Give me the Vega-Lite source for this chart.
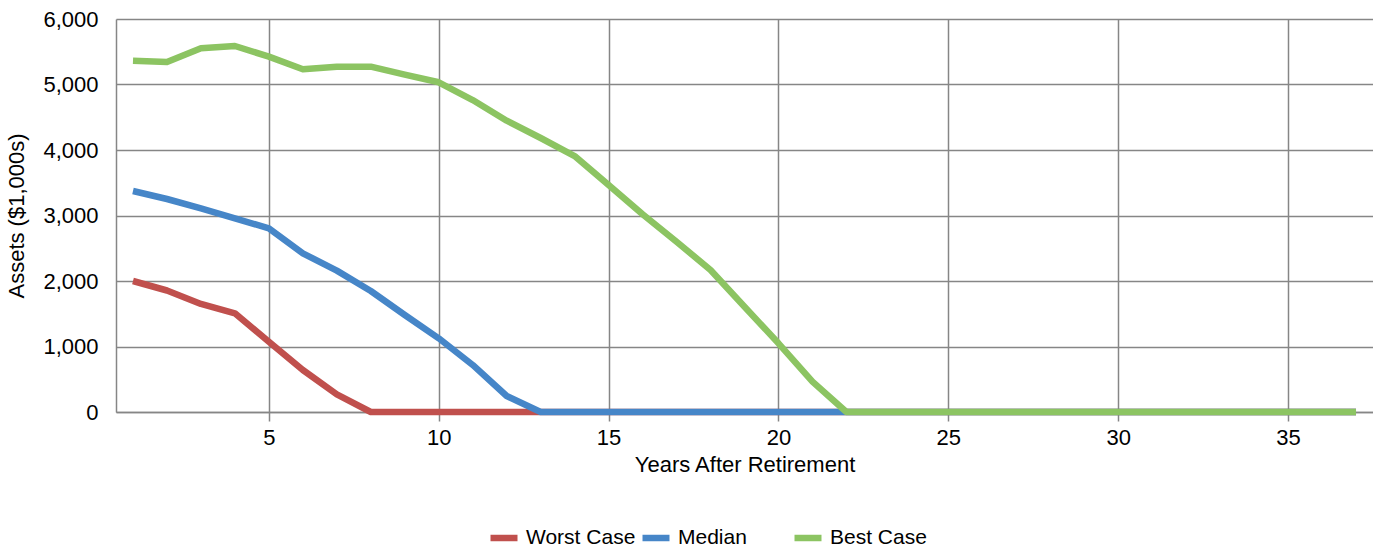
{
  "$schema": "https://vega.github.io/schema/vega-lite/v6.json",
  "autosize": {"type": "none"},
  "padding": {"left": 116, "top": 19, "right": 0, "bottom": 136},
  "width": 1257,
  "height": 393,
  "background": "white",
  "config": {
    "font": "Liberation Sans",
    "view": {"stroke": null},
    "axis": {
      "labelFont": "Liberation Sans",
      "titleFont": "Liberation Sans",
      "labelFontSize": 22,
      "titleFontSize": 22,
      "titleFontWeight": "normal",
      "labelColor": "#000000",
      "titleColor": "#000000",
      "gridColor": "#868686",
      "gridWidth": 1.5,
      "gridOpacity": 1,
      "domainColor": "#868686",
      "domainWidth": 1.5,
      "tickColor": "#868686",
      "tickWidth": 1.5
    },
    "legend": {
      "labelFont": "Liberation Sans",
      "labelFontSize": 21,
      "labelColor": "#000000"
    }
  },
  "data": {
    "values": [
      {"year": 1, "Worst Case": 2000, "Median": 3374, "Best Case": 5364},
      {"year": 2, "Worst Case": 1855, "Median": 3252, "Best Case": 5344},
      {"year": 3, "Worst Case": 1649, "Median": 3110, "Best Case": 5552},
      {"year": 4, "Worst Case": 1506, "Median": 2957, "Best Case": 5588},
      {"year": 5, "Worst Case": 1073, "Median": 2804, "Best Case": 5425},
      {"year": 6, "Worst Case": 641, "Median": 2423, "Best Case": 5232},
      {"year": 7, "Worst Case": 270, "Median": 2158, "Best Case": 5272},
      {"year": 8, "Worst Case": 0, "Median": 1847, "Best Case": 5272},
      {"year": 9, "Worst Case": 0, "Median": 1481, "Best Case": 5150},
      {"year": 10, "Worst Case": 0, "Median": 1125, "Best Case": 5034},
      {"year": 11, "Worst Case": 0, "Median": 718, "Best Case": 4763},
      {"year": 12, "Worst Case": 0, "Median": 244, "Best Case": 4448},
      {"year": 13, "Worst Case": 0, "Median": 0, "Best Case": 4183},
      {"year": 14, "Worst Case": 0, "Median": 0, "Best Case": 3908},
      {"year": 15, "Worst Case": 0, "Median": 0, "Best Case": 3466},
      {"year": 16, "Worst Case": 0, "Median": 0, "Best Case": 3018},
      {"year": 17, "Worst Case": 0, "Median": 0, "Best Case": 2600},
      {"year": 18, "Worst Case": 0, "Median": 0, "Best Case": 2168},
      {"year": 19, "Worst Case": 0, "Median": 0, "Best Case": 1608},
      {"year": 20, "Worst Case": 0, "Median": 0, "Best Case": 1049},
      {"year": 21, "Worst Case": 0, "Median": 0, "Best Case": 463},
      {"year": 22, "Worst Case": 0, "Median": 0, "Best Case": 0},
      {"year": 23, "Worst Case": 0, "Median": 0, "Best Case": 0},
      {"year": 24, "Worst Case": 0, "Median": 0, "Best Case": 0},
      {"year": 25, "Worst Case": 0, "Median": 0, "Best Case": 0},
      {"year": 26, "Worst Case": 0, "Median": 0, "Best Case": 0},
      {"year": 27, "Worst Case": 0, "Median": 0, "Best Case": 0},
      {"year": 28, "Worst Case": 0, "Median": 0, "Best Case": 0},
      {"year": 29, "Worst Case": 0, "Median": 0, "Best Case": 0},
      {"year": 30, "Worst Case": 0, "Median": 0, "Best Case": 0},
      {"year": 31, "Worst Case": 0, "Median": 0, "Best Case": 0},
      {"year": 32, "Worst Case": 0, "Median": 0, "Best Case": 0},
      {"year": 33, "Worst Case": 0, "Median": 0, "Best Case": 0},
      {"year": 34, "Worst Case": 0, "Median": 0, "Best Case": 0},
      {"year": 35, "Worst Case": 0, "Median": 0, "Best Case": 0},
      {"year": 36, "Worst Case": 0, "Median": 0, "Best Case": 0},
      {"year": 37, "Worst Case": 0, "Median": 0, "Best Case": 0}
    ]
  },
  "transform": [
    {"fold": ["Worst Case", "Median", "Best Case"], "as": ["series", "value"]}
  ],
  "mark": {"type": "line", "strokeWidth": 6.5, "strokeJoin": "round", "strokeCap": "butt"},
  "encoding": {
    "x": {
      "field": "year",
      "type": "quantitative",
      "scale": {"domain": [0.5, 37.5], "nice": false, "zero": false},
      "axis": {
        "title": "Years After Retirement",
        "values": [5, 10, 15, 20, 25, 30, 35],
        "format": "d",
        "tickSize": 9,
        "labelPadding": 6,
        "titlePadding": 6,
        "domain": true,
        "grid": true
      }
    },
    "y": {
      "field": "value",
      "type": "quantitative",
      "scale": {"domain": [0, 6000], "nice": false},
      "axis": {
        "title": "Assets ($1,000s)",
        "values": [0, 1000, 2000, 3000, 4000, 5000, 6000],
        "format": ",d",
        "ticks": false,
        "labelPadding": 18,
        "titlePadding": 14,
        "grid": true,
        "domain": true
      }
    },
    "color": {
      "field": "series",
      "type": "nominal",
      "sort": ["Worst Case", "Median", "Best Case"],
      "scale": {
        "domain": ["Worst Case", "Median", "Best Case"],
        "range": ["#C0504D", "#4686C8", "#8CC462"]
      },
      "legend": {
        "title": null,
        "orient": "none",
        "direction": "horizontal",
        "legendX": 371,
        "legendY": 502,
        "symbolType": "stroke",
        "symbolSize": 729,
        "symbolStrokeWidth": 6.5,
        "labelOffset": 5,
        "columnPadding": -7,
        "gridAlign": "all"
      }
    }
  }
}
